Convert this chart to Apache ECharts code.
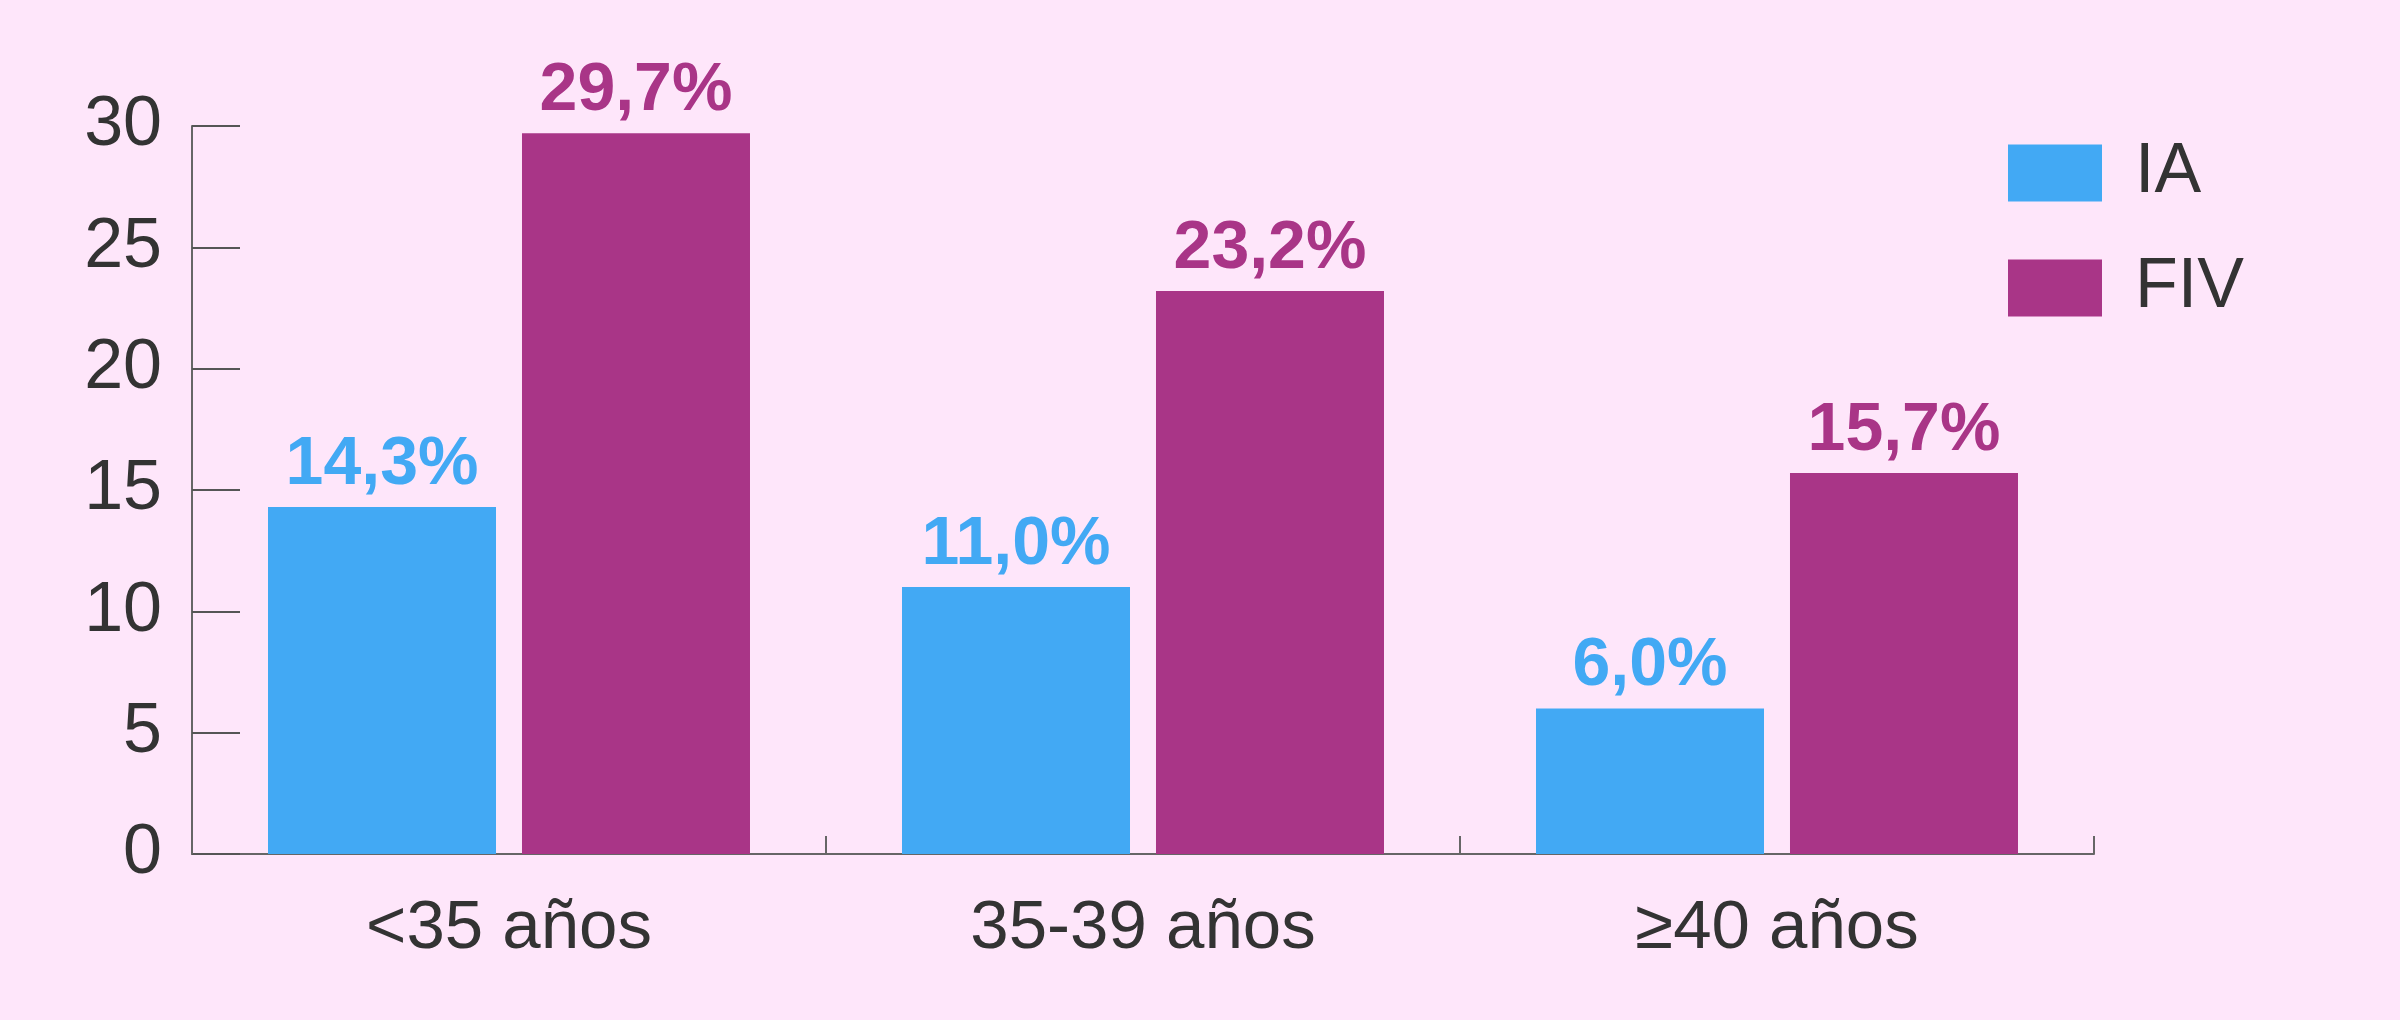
<!DOCTYPE html>
<html>
<head>
<meta charset="utf-8">
<style>
  html, body { margin: 0; padding: 0; background: #FEE6FA; }
  #chart { width: 2400px; height: 1020px; }
</style>
<script src="https://cdn.jsdelivr.net/npm/echarts@6/dist/echarts.min.js"></script>
</head>
<body>
<div id="chart"></div>
<script>
// data
const categories = ['<35 años', '35-39 años', '≥40 años'];
const iaValues = [14.3, 11.0, 6.0];
const fivValues = [29.7, 23.2, 15.7];
const seriesNames = ['IA', 'FIV'];

const BLUE = '#42A9F4';
const PURPLE = '#A93587';
const FONT = '"Liberation Sans", Arial, sans-serif';

const chart = echarts.init(document.getElementById('chart'));

// 14.3 -> "14,3%"
function pct(p) {
  return p.value.toFixed(1).replace('.', ',') + '%';
}

function barSeries(name, values, color) {
  return {
    name: name,
    type: 'bar',
    data: values,
    barWidth: 228,
    barGap: '11.4%',
    itemStyle: { color: color },
    label: {
      show: true,
      position: 'top',
      distance: 8,
      formatter: pct,
      color: color,
      fontFamily: FONT,
      fontWeight: 'bold',
      fontSize: 68
    }
  };
}

chart.setOption({
  backgroundColor: '#FEE6FA',
  animation: false,
  grid: { left: 192, right: 306, top: 126, bottom: 166 },
  legend: {
    orient: 'vertical',
    left: 2003,
    top: 133,
    itemWidth: 94,
    itemHeight: 57,
    itemGap: 45,
    icon: 'rect',
    data: seriesNames,
    textStyle: {
      fontFamily: FONT,
      fontSize: 70,
      color: '#333333',
      padding: [0, 0, 0, 28]
    }
  },
  xAxis: {
    type: 'category',
    data: categories,
    axisLine: { lineStyle: { color: '#666666', width: 2 } },
    axisTick: {
      show: true,
      interval: 0,
      alignWithLabel: false,
      inside: true,
      length: 18,
      lineStyle: { color: '#666666', width: 2 }
    },
    axisLabel: {
      margin: 40,
      fontFamily: FONT,
      fontSize: 69,
      color: '#333333'
    }
  },
  yAxis: {
    type: 'value',
    min: 0,
    max: 30,
    interval: 5,
    splitLine: { show: false },
    axisLine: { show: true, lineStyle: { color: '#666666', width: 2 } },
    axisTick: { show: true, inside: true, length: 48, lineStyle: { color: '#555555', width: 2 } },
    axisLabel: {
      margin: 30,
      fontFamily: FONT,
      fontSize: 70,
      color: '#333333'
    }
  },
  series: [
    barSeries(seriesNames[0], iaValues, BLUE),
    barSeries(seriesNames[1], fivValues, PURPLE)
  ]
});
</script>
</body>
</html>
